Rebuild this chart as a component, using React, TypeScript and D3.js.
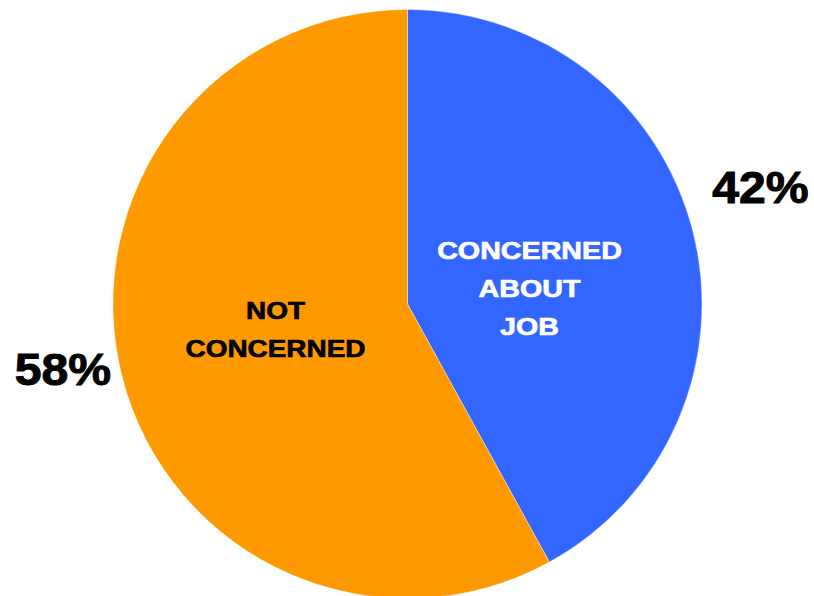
import React from "react";
import * as d3 from "d3";

const categories = ["CONCERNED ABOUT JOB", "NOT CONCERNED"];
const values = [42, 58];
const percentLabels = ["42%", "58%"];
const sliceColors = ["#3366FF", "#FF9900"];
const innerLabelLines = [["CONCERNED", "ABOUT", "JOB"], ["NOT", "CONCERNED"]];
const innerLabelColors = ["#FFFFFF", "#000000"];

const W = 814;
const H = 596;
const cx = 407.5;
const cy = 304;
const R = 294.5;

export default function App() {
  const pie = d3.pie<number>().sort(null).value((d) => d)(values);
  const arc = d3.arc<d3.PieArcDatum<number>>().innerRadius(0).outerRadius(R);

  const innerPos = [
    { x: 529.5, y: 259 },
    { x: 275.5, y: 319 },
  ];
  const innerScale = [1.17, 1.14];
  const pctPos = [
    { x: 760.5, y: 203 },
    { x: 63, y: 385 },
  ];
  const lineH = 38;

  return (
    <svg
      width={W}
      height={H}
      style={{ position: "absolute", left: 0, top: 0, display: "block", background: "#fff" }}
    >
      <g transform={`translate(${cx},${cy})`}>
        {pie.map((p, i) => (
          <path
            key={categories[i]}
            d={arc(p) || ""}
            fill={sliceColors[i]}
            stroke="#ffffff"
            strokeOpacity={0.35}
            strokeWidth={1}
          />
        ))}
      </g>
      {innerLabelLines.map((lines, i) => (
        <g key={"lab" + i}>
          {lines.map((t, j) => (
            <text
              key={t + j}
              transform={`translate(${innerPos[i].x},${innerPos[i].y + j * lineH}) scale(${innerScale[i]},1)`}
              textAnchor="middle"
              fontFamily="'Liberation Sans', Arial, sans-serif"
              fontWeight="bold"
              fontSize={24.5}
              fill={innerLabelColors[i]}
              stroke={innerLabelColors[i]}
              strokeWidth={0.7}
            >
              {t}
            </text>
          ))}
        </g>
      ))}
      {percentLabels.map((t, i) => (
        <text
          key={t}
          transform={`translate(${pctPos[i].x},${pctPos[i].y}) scale(1.07,1)`}
          textAnchor="middle"
          fontFamily="'Liberation Sans', Arial, sans-serif"
          fontWeight="bold"
          fontSize={45}
          fill="#000"
          stroke="#000"
          strokeWidth={1}
        >
          {t}
        </text>
      ))}
    </svg>
  );
}
